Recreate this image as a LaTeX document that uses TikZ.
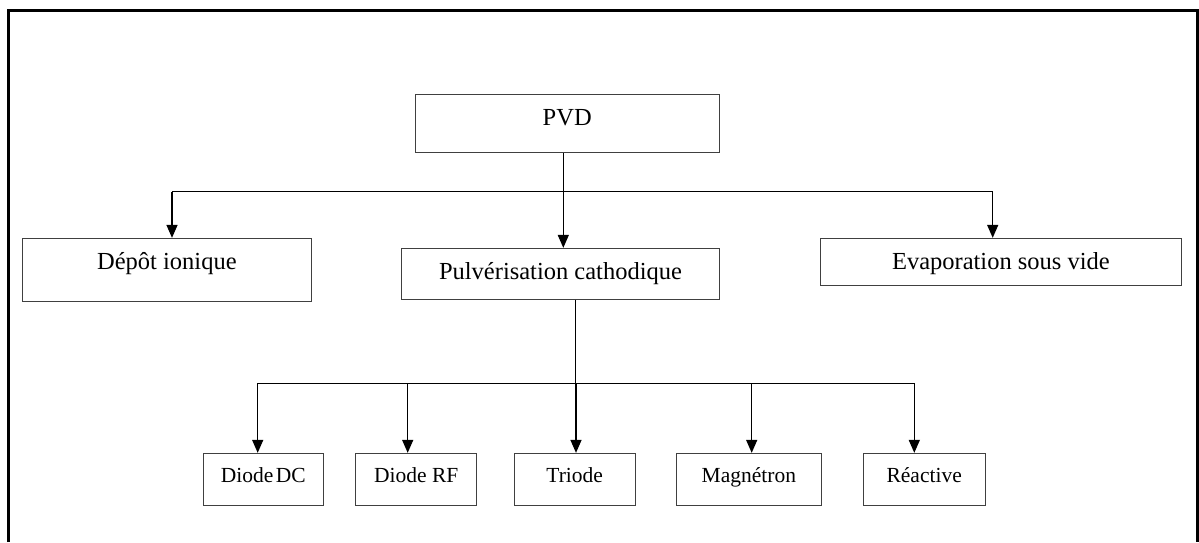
\documentclass[tikz,border=0pt]{standalone}
\usepackage{fontspec}
\setmainfont{Liberation Serif}
\usetikzlibrary{arrows.meta}

\begin{document}
\begin{tikzpicture}[x=1pt, y=-1pt,
					every node/.style = {shape=rectangle, draw=black!75, line width=0.9pt,
						inner sep=0pt, align=center, anchor=base,
					font=\fontsize{24.5}{29}\selectfont},
					small/.style = {font=\fontsize{21.5}{26}\selectfont,
						text height=29.2pt, text depth=23.3pt},
					link/.style = {line width=1.4pt, -{Triangle[width=11pt,length=13pt]}}]
					\useasboundingbox (0,0) rectangle (1199,542);
					% frame
					\draw[line width=3pt] (8.7,542) -- (8.7,10) -- (1197.5,10) -- (1197.5,542);
					% first level
					\node (pvd) [minimum width=304.3pt, text height=31pt, text depth=27.7pt] at (567.2,125) {PVD};
					\node (depot) [minimum width=288.3pt, text height=31pt, text depth=32.4pt] at (166.9,269.3) {Dépôt ionique};
					\node (pulv) [minimum width=317.6pt, text height=30.7pt, text depth=20.3pt] at (560.5,279) {Pulvérisation cathodique};
					\node (evap) [minimum width=360.3pt, text height=31pt, text depth=15.7pt] at (1000.9,269.3) {Evaporation sous vide};
					% second level
					\node (dc) [small, minimum width=120pt] at (263.3,482.5) {Diode\hspace{0.12em}DC};
					\node (rf) [small, minimum width=121pt] at (416.2,482.5) {Diode RF};
					\node (triode) [small, minimum width=120.7pt] at (574.7,482.5) {Triode};
					\node (magn) [small, minimum width=144.3pt] at (748.9,482.5) {Magnétron};
					\node (reac) [small, minimum width=121.7pt] at (924.2,482.5) {Réactive};
					% bars
					\coordinate (t1) at (172,191.7);
					\coordinate (t2) at (563.3,191.7);
					\coordinate (t3) at (992.7,191.7);
					\coordinate (s0) at (575.7,383.3);
					\coordinate (s1) at (257.7,383.3);
					\coordinate (s2) at (407.7,383.3);
					\coordinate (s3) at (576,383.3);
					\coordinate (s4) at (751.7,383.3);
					\coordinate (s5) at (914.3,383.3);
					\draw[line width=1.4pt] (t1) -- (t3);
					\draw[link] (t1) -- (t1 |- depot.north);
					\draw[link] (pvd.south -| t2) -- (t2 |- pulv.north);
					\draw[link] (t3) -- (t3 |- evap.north);
					\draw[line width=1.4pt] (pulv.south -| s0) -- (s0);
					\draw[line width=1.4pt] (s1) -- (s5);
					\foreach \s/\n in {s1/dc, s2/rf, s3/triode, s4/magn, s5/reac}
						\draw[link] (\s) -- (\s |- \n.north);
				\end{tikzpicture}
\end{document}
